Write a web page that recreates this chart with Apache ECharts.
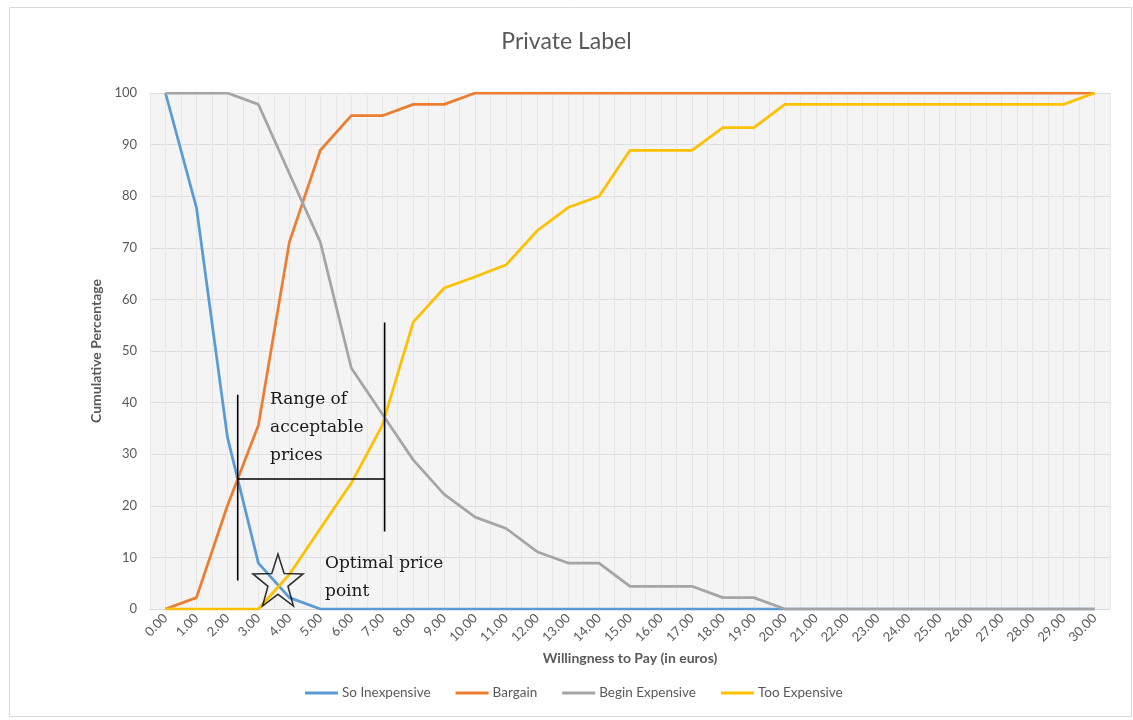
<!DOCTYPE html>
<html>
<head>
<meta charset="utf-8">
<title>Private Label</title>
<script src="https://cdn.jsdelivr.net/npm/echarts@6/dist/echarts.min.js"></script>
<style>
  html, body { margin: 0; padding: 0; background: #ffffff; }
  #chart { width: 1133px; height: 720px; }
</style>
</head>
<body>
<div id="chart"></div>
<script>
// Price points (euros) shown on the horizontal axis
const priceLabels = ['0.00', '1.00', '2.00', '3.00', '4.00', '5.00', '6.00', '7.00', '8.00', '9.00',
  '10.00', '11.00', '12.00', '13.00', '14.00', '15.00', '16.00', '17.00', '18.00', '19.00',
  '20.00', '21.00', '22.00', '23.00', '24.00', '25.00', '26.00', '27.00', '28.00', '29.00', '30.00'];

// Cumulative percentages per price point
const soInexpensive = [100, 77.8, 33.3, 8.9, 2.2, 0, 0, 0, 0, 0,
  0, 0, 0, 0, 0, 0, 0, 0, 0, 0,
  0, 0, 0, 0, 0, 0, 0, 0, 0, 0, 0];
const bargain = [0, 2.2, 20, 35.6, 71.1, 88.9, 95.6, 95.6, 97.8, 97.8,
  100, 100, 100, 100, 100, 100, 100, 100, 100, 100,
  100, 100, 100, 100, 100, 100, 100, 100, 100, 100, 100];
const beginExpensive = [100, 100, 100, 97.8, 84.4, 71.1, 46.7, 37.8, 28.9, 22.2,
  17.8, 15.6, 11.1, 8.9, 8.9, 4.4, 4.4, 4.4, 2.2, 2.2,
  0, 0, 0, 0, 0, 0, 0, 0, 0, 0, 0];
const tooExpensive = [0, 0, 0, 0, 6.7, 15.6, 24.4, 35.6, 55.6, 62.2,
  64.4, 66.7, 73.3, 77.8, 80, 88.9, 88.9, 88.9, 93.3, 93.3,
  97.8, 97.8, 97.8, 97.8, 97.8, 97.8, 97.8, 97.8, 97.8, 97.8, 100];

const yTicks = { min: 0, max: 100, step: 10 };

// Where two curves cross (linear between price points), as [index, value]
function crossing(a, b) {
  for (let i = 0; i < a.length - 1; i++) {
    const d0 = a[i] - b[i];
    const d1 = a[i + 1] - b[i + 1];
    if (d0 > 0 && d1 < 0 || d0 < 0 && d1 > 0) {
      const t = d0 / (d0 - d1);
      return [i + t, a[i] + (a[i + 1] - a[i]) * t];
    }
  }
  return null;
}

const lowBound = crossing(soInexpensive, bargain);        // lower end of acceptable range
const highBound = crossing(beginExpensive, tooExpensive); // upper end of acceptable range
const optimal = crossing(soInexpensive, tooExpensive);    // optimal price point

// Five-pointed star outline used for the optimal price marker
function starPath() {
  const pts = [];
  for (let k = 0; k < 10; k++) {
    const r = k % 2 === 0 ? 50 : 20;
    const a = -Math.PI / 2 + k * Math.PI / 5;
    pts.push((50 + r * Math.cos(a)).toFixed(2) + ',' + (50 + r * Math.sin(a)).toFixed(2));
  }
  return 'path://M' + pts.join('L') + 'Z';
}

const uiFont = 'Lato, "Open Sans", sans-serif';
const noteFont = '"DejaVu Serif", serif';
const textGrey = '#595959';

const chart = echarts.init(document.getElementById('chart'), null, { renderer: 'canvas' });

function curve(name, data, color) {
  return {
    name: name, type: 'line', data: data,
    xAxisIndex: 0, yAxisIndex: 0,
    symbol: 'none', smooth: false,
    lineStyle: { color: color, width: 2.75 },
    itemStyle: { color: color },
    z: 3
  };
}

function guide(points) {
  return {
    type: 'line', xAxisIndex: 1, yAxisIndex: 0,
    data: points, symbol: 'none', silent: true,
    lineStyle: { color: '#000000', width: 1.6 },
    z: 5
  };
}

chart.setOption({
  backgroundColor: '#ffffff',
  animation: false,
  title: {
    text: 'Private Label',
    left: 'center', top: 25,
    textStyle: { fontFamily: uiFont, fontSize: 23, fontWeight: 'normal', color: textGrey }
  },
  legend: {
    data: ['So Inexpensive', 'Bargain', 'Begin Expensive', 'Too Expensive'],
    left: 300, top: 681,
    icon: 'rect', itemWidth: 33, itemHeight: 3, itemGap: 25,
    textStyle: { fontFamily: uiFont, fontSize: 13.5, color: textGrey, padding: [0, 0, 0, -1] }
  },
  grid: {
    left: 150, right: 23, top: 93, bottom: 111,
    show: true, backgroundColor: '#f4f4f4', borderWidth: 0
  },
  xAxis: [
    {
      type: 'category', data: priceLabels, boundaryGap: true,
      name: 'Willingness to Pay (in euros)', nameLocation: 'middle', nameGap: 31,
      nameTextStyle: { fontFamily: uiFont, fontSize: 14, fontWeight: 'bold', color: textGrey },
      axisLine: { show: true, lineStyle: { color: '#d9d9d9', width: 1 } },
      axisTick: { show: false },
      axisLabel: { interval: 0, rotate: 45, margin: 7, fontFamily: uiFont, fontSize: 13, color: textGrey },
      splitLine: { show: false }
    },
    {
      type: 'value', min: -0.5, max: 30.5, interval: 0.5,
      show: true, position: 'bottom',
      axisLine: { show: false }, axisTick: { show: false }, axisLabel: { show: false },
      splitLine: { show: true, lineStyle: { color: '#e7e7e7', width: 1 } }
    }
  ],
  yAxis: {
    type: 'value', min: yTicks.min, max: yTicks.max, interval: yTicks.step,
    name: 'Cumulative Percentage', nameLocation: 'middle', nameGap: 45,
    nameTextStyle: { fontFamily: uiFont, fontSize: 14, fontWeight: 'bold', color: textGrey },
    axisLine: { show: false }, axisTick: { show: false },
    axisLabel: { margin: 13, fontFamily: uiFont, fontSize: 13, color: textGrey },
    splitLine: { show: true, lineStyle: { color: '#dedede', width: 1 } }
  },
  series: [
    curve('So Inexpensive', soInexpensive, '#5b9bd5'),
    curve('Bargain', bargain, '#ed7d31'),
    curve('Begin Expensive', beginExpensive, '#a5a5a5'),
    curve('Too Expensive', tooExpensive, '#ffc000'),
    // range of acceptable prices: two bounds joined at the lower crossing level
    guide([[lowBound[0], 5.5], [lowBound[0], 41.5]]),
    guide([[highBound[0], 15], [highBound[0], 55.5]]),
    guide([[lowBound[0], lowBound[1]], [highBound[0], lowBound[1]]]),
    {
      type: 'scatter', xAxisIndex: 1, yAxisIndex: 0,
      data: [optimal], silent: true,
      symbol: starPath(), symbolSize: [50, 52], symbolOffset: [-1, -6],
      itemStyle: { color: 'rgba(255,255,255,0)', borderColor: '#000000', borderWidth: 1.6 },
      z: 6
    }
  ],
  graphic: [
    {
      type: 'rect', left: 7, top: 5, silent: true,
      shape: { width: 1122, height: 709 },
      style: { fill: 'none', stroke: '#d9d9d9', lineWidth: 1 }
    },
    {
      type: 'text', left: 270, top: 386, silent: true, z: 10,
      style: { text: 'Range of\nacceptable\nprices', font: '17px ' + noteFont, fill: '#1a1a1a', lineHeight: 28 }
    },
    {
      type: 'text', left: 325, top: 550, silent: true, z: 10,
      style: { text: 'Optimal price\npoint', font: '17px ' + noteFont, fill: '#1a1a1a', lineHeight: 28 }
    }
  ]
});
</script>
</body>
</html>
